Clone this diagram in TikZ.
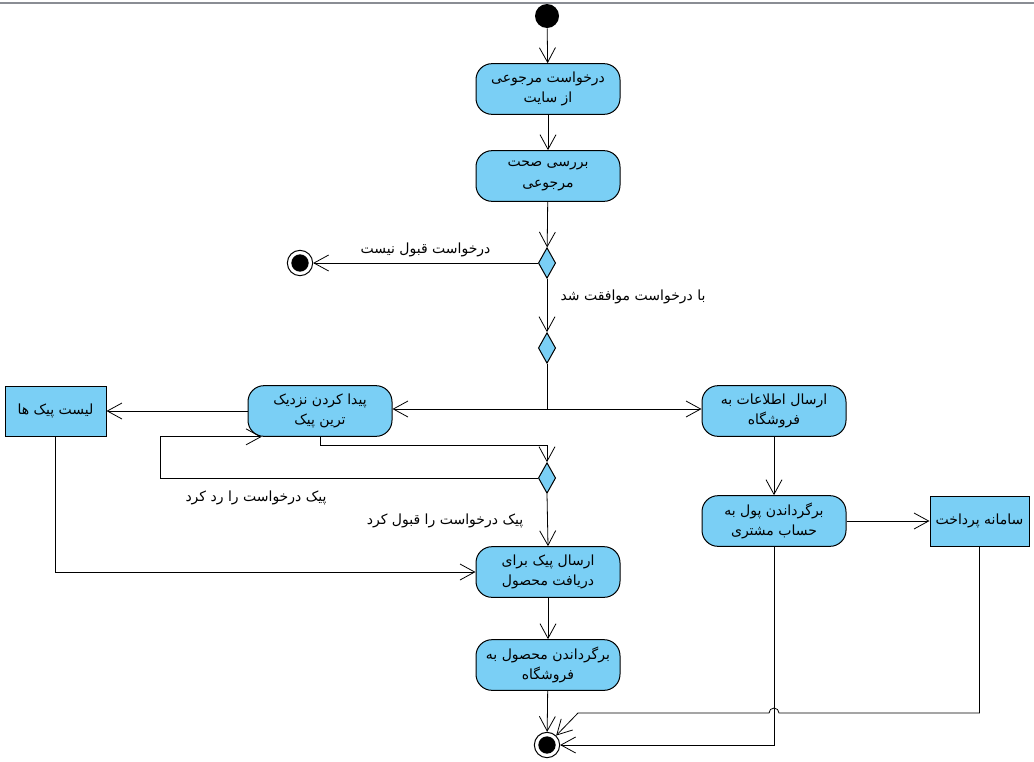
\documentclass[tikz,border=0pt]{standalone}
\usepackage{fontspec}
\setmainfont{DejaVu Sans}
\newfontfamily\arabicfont[Script=Arabic]{DejaVu Sans}
\TeXXeTstate=1
\usetikzlibrary{shapes.geometric,arrows.meta}
\newcommand\fa[1]{{\arabicfont\beginR #1\endR}}
\definecolor{actfill}{RGB}{122,207,245}
\definecolor{topline}{RGB}{138,141,148}
\begin{document}
\begin{tikzpicture}[x=0.75pt,y=-0.75pt,
  font=\fontsize{10.5}{15.5}\selectfont,
  act/.style={draw,fill=actfill,rounded corners=12pt,minimum width=108pt,minimum height=38pt,align=center,inner sep=1pt,line width=0.75pt},
  obj/.style={draw,fill=actfill,align=center,inner sep=1pt,line width=0.75pt,minimum height=37.5pt},
  dec/.style={diamond,draw,fill=actfill,minimum width=13pt,minimum height=23pt,inner sep=0pt,line width=0.75pt},
  startst/.style={circle,fill=black,minimum size=18pt,inner sep=0pt},
  final/.style={circle,draw,fill=white,minimum size=19pt,inner sep=0pt,line width=0.75pt,
    path picture={\fill[black] (path picture bounding box.center) circle (6.5pt);}},
  arr/.style={-{Straight Barb[length=11pt,width=12pt]},line width=0.6pt},
  ln/.style={line width=0.6pt},
  lbl/.style={inner sep=1pt}
]
\useasboundingbox (0,0) rectangle (1034,761);
\draw[topline,line width=1.6pt] (0,3) -- (1034,3);

\node[startst] (S) at (547,16) {};
\node[act] (A1) at (548,89) {\fa{درخواست مرجوعی}\\\fa{از سایت}};
\node[act] (A2) at (548,176) {\fa{بررسی صحت}\\\fa{مرجوعی}};
\node[dec] (D1) at (547,263) {};
\node[final] (F1) at (300,263) {};
\node[dec] (D2) at (547,348) {};
\node[act] (A3) at (320,411) {\fa{پیدا کردن نزدیک}\\\fa{ترین پیک}};
\node[act] (A4) at (774,411) {\fa{ارسال اطلاعات به}\\\fa{فروشگاه}};
\node[obj,minimum width=75.75pt] (L1) at (55.5,411) {\fa{لیست پیک ها}};
\node[dec] (D3) at (547,478) {};
\node[act] (A5) at (548,572) {\fa{ارسال پیک برای}\\\fa{دریافت محصول}};
\node[act] (A6) at (548,665) {\fa{برگرداندن محصول به}\\\fa{فروشگاه}};
\node[act] (A7) at (774,521) {\fa{برگرداندن پول به}\\\fa{حساب مشتری}};
\node[obj,minimum width=74.25pt] (P1) at (979.5,521) {\fa{سامانه پرداخت}};
\node[final] (F2) at (547,745) {};

\coordinate (J1) at (547,409);
\coordinate (J3) at (547,445);
\coordinate (LP) at (160,478);
\coordinate (H1) at (779,713);
\coordinate (B1) at (578,713);

\draw[arr] (S) -- (A1);
\draw[arr] (A1) -- (A2);
\draw[arr] (A2) -- (D1);
\draw[arr] (D1) -- (F1) node[lbl,pos=0.5,above=3pt] {\fa{درخواست قبول نیست}};
\draw[arr] (D1) -- (D2);
\node[lbl] (T2) at (633,297) {\fa{با درخواست موافقت شد}};
\draw[ln] (D2.south) -- (J1);
\draw[arr] (J1) -- (J1 -| A3.east);
\draw[arr] (J1) -- (J1 -| A4.west);
\draw[arr] (A3.west) -- (L1.east);
\draw[arr] (A3.south) |- (J3) -- (D3.north);
\draw[arr] (D3.west) -- (LP) |- ([xshift=10.5pt]A3.south west);
\node[lbl] (T3) at (256,498) {\fa{پیک درخواست را رد کرد}};
\draw[arr] (D3.south) -- (A5.north);
\node[lbl] (T4) at (445,521) {\fa{پیک درخواست را قبول کرد}};
\draw[arr] (L1.south) |- (A5.west);
\draw[arr] (A5) -- (A6);
\draw[arr] (A6) -- (F2);
\draw[arr] (A4) -- (A7);
\draw[arr] (A7.east) -- (P1.west);
\draw[arr] (A7.south) |- (F2.east);
\draw[arr] (P1.south) |- (H1) arc[start angle=0,end angle=180,radius=3.75pt] -- (B1) -- (F2);
\end{tikzpicture}
\end{document}
